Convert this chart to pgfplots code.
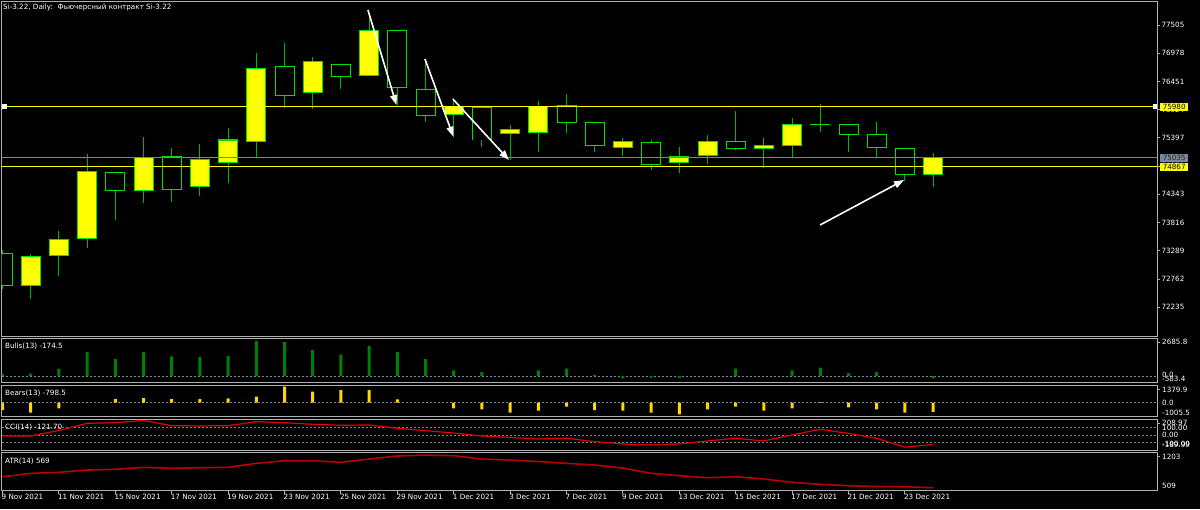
\documentclass[border=0pt]{standalone}
\usepackage{pgfplots}
\pgfplotsset{compat=1.18}
\usepackage{pgfplotstable}
\usepackage{fontspec}
\setmainfont{DejaVu Sans}
\usetikzlibrary{arrows.meta}

\definecolor{frame}{RGB}{176,176,176}
\definecolor{candleline}{RGB}{0,225,0}
\definecolor{wick}{RGB}{0,180,0}
\definecolor{bullbar}{RGB}{0,128,0}
\definecolor{bearbar}{RGB}{255,215,0}
\definecolor{dashc}{RGB}{119,136,153}
\definecolor{ccired}{RGB}{225,0,0}
\definecolor{atrred}{RGB}{185,0,0}
\definecolor{bidgray}{RGB}{130,130,130}
\definecolor{bidbox}{RGB}{119,136,153}
\definecolor{lvl}{RGB}{255,255,0}

% candles: index, open, high, low, close
\pgfplotstableread{
i o h l c
1 72635 73225 72398 73180
2 73194 73660 72827 73505
3 73524 75092 73337 74767
5 74407 75414 74177 75035
7 74487 75278 74319 74985
8 74935 75583 74550 75358
9 75327 76977 75046 76697
11 76242 76902 75932 76828
13 76566 77711 76560 77394
16 75826 76118 75421 75980
18 75484 75639 74985 75546
19 75503 76092 75140 75980
22 75222 75390 75059 75327
24 74942 75234 74748 75046
25 75065 75451 74910 75334
27 75196 75390 74830 75252
28 75247 75775 75017 75639
33 74723 75110 74476 75035
}\bullcandles
\pgfplotstableread{
i o h l c
0 73245 73300 72580 72640
4 74756 74765 73865 74407
6 75059 75209 74207 74438
10 76727 77175 75951 76186
12 76772 76780 76311 76547
14 77394 77400 76013 76335
15 76305 76865 75690 75807
17 75962 75968 75234 75358
20 75999 76212 75495 75690
21 75690 75698 75129 75252
23 75315 75358 74799 74905
26 75334 75900 75172 75196
29 75649 76031 75503 75639
30 75652 75657 75140 75464
31 75464 75690 75017 75215
32 75204 75211 74598 74705
}\bearcandles
\pgfplotstableread{
i v
0 150
1 190
2 550
3 1846
4 1312
5 1846
6 1518
7 1480
8 1541
9 2685.8
10 2609
11 2000
12 1640
13 2304
14 1846
15 1312
16 450
17 320
18 30
19 450
20 572
21 92
22 -160
23 -115
24 -137
25 10
26 572
27 15
28 450
29 649
30 244
31 320
32 -40
33 -174.5
}\bullsdata
\pgfplotstableread{
i v
0 -630
1 -862
2 -483
3 -20
4 319
5 405
6 319
7 319
8 380
9 517
10 1379.9
11 948
12 1095
13 1095
14 293
15 10
16 -483
17 -569
18 -862
19 -690
20 -345
21 -629
22 -690
23 -862
24 -1005.5
25 -569
26 -345
27 -690
28 -483
29 60
30 -397
31 -569
32 -862
33 -798.5
}\bearsdata
\pgfplotstableread{
i v
0 -9
1 -9
2 63
3 158
4 166
5 195
6 127
7 123
8 127
9 180
10 166
11 145
12 132
13 136
14 92
15 61
16 30
17 -9
18 -29
19 -49
20 -40
21 -84
22 -115
23 -128
24 -115
25 -75
26 -40
27 -75
28 4
29 79
30 26
31 -40
32 -158
33 -121.70
}\ccidata
\pgfplotstableread{
i v
0 782
1 848
2 868
3 912
4 926
5 965
6 945
7 957
8 965
9 1042
10 1093
11 1093
12 1062
13 1126
14 1184
15 1203
16 1190
17 1126
18 1106
19 1077
20 1042
21 1009
22 951
23 848
24 802
25 763
26 782
27 738
28 674
29 635
30 608
31 592
32 588
33 569
}\atrdata

\newcommand\lbl{\fontsize{7.2}{8.6}\selectfont}

\pgfplotsset{
  panel/.style={
    scale only axis, width=1155.6pt,
    xmin=-0.02837, xmax=40.9504,
    axis line style={draw=frame, line width=1pt},
    xtick=\empty, ytick=\empty,
    anchor=north west,
  },
  vbar/.style 2 args={draw=none, mark=none,
    error bars/.cd, y dir=plus, y explicit, error mark=none,
    error bar style={draw=#1, line width=#2, line cap=butt}},
  zeroline/.style={dashc, dash pattern=on 2pt off 2pt, line width=0.8pt},
}

\begin{document}
\begin{tikzpicture}
\useasboundingbox (0,0) rectangle (1200pt,-509pt);
\fill[black] (0,0) rectangle (1200pt,-509pt);

% ---------------- main price panel
\begin{axis}[panel, at={(1.7pt,-1.7pt)}, height=334.6pt,
  ymin=71693, ymax=77940,
  ytick={72235,72762,73289,73816,74343,74870,75397,75924,76451,76978,77505},
  yticklabels={72235,72762,73289,73816,74343,74870,75397,75924,76451,76978,77505},
  ytick pos=right, yticklabel pos=right, scaled y ticks=false,
  tick align=outside, major tick length=3pt,
  tick style={draw=frame, line width=1pt},
  yticklabel style={text=white, font=\lbl, anchor=west, inner sep=0pt, xshift=1pt},
]
% wicks
\addplot[vbar={wick}{1pt}] table[x=i, y=l, y error plus expr=\thisrow{h}-\thisrow{l}] \bullcandles;
\addplot[vbar={wick}{1pt}] table[x=i, y=l, y error plus expr=\thisrow{h}-\thisrow{l}] \bearcandles;
% bull bodies
\addplot[vbar={candleline}{20pt}] table[x=i, y expr=\thisrow{o}-9.3, y error plus expr=\thisrow{c}-\thisrow{o}+18.7] \bullcandles;
\addplot[vbar={lvl}{18pt}] table[x=i, y expr=\thisrow{o}+9.3, y error plus expr={max(\thisrow{c}-\thisrow{o}-18.7,0)}] \bullcandles;
% bear bodies
\addplot[vbar={candleline}{20pt}] table[x=i, y expr=\thisrow{c}-9.3, y error plus expr=\thisrow{o}-\thisrow{c}+18.7] \bearcandles;
\addplot[vbar={black}{18pt}] table[x=i, y expr=\thisrow{c}+9.3, y error plus expr={max(\thisrow{o}-\thisrow{c}-18.7,0)}] \bearcandles;
% horizontal levels
\addplot[lvl, line width=1.5pt] coordinates {(-1,75980) (42,75980)};
\addplot[lvl, line width=1.5pt] coordinates {(-1,74867) (42,74867)};
\addplot[bidgray, line width=1.2pt] coordinates {(-1,75035) (42,75035)};
% arrows
\draw[white, line width=1.6pt, -{Triangle[length=10pt, width=7pt]}] (axis cs:12.96,77785) -- (axis cs:13.97,76012);
\draw[white, line width=1.6pt, -{Triangle[length=10pt, width=7pt]}] (axis cs:14.98,76871) -- (axis cs:15.99,75420);
\draw[white, line width=1.6pt, -{Triangle[length=10pt, width=7pt]}] (axis cs:15.97,76124) -- (axis cs:17.96,74985);
\draw[white, line width=1.6pt, -{Triangle[length=10pt, width=7pt]}] (axis cs:28.99,73771) -- (axis cs:31.97,74611);
\end{axis}

% ---------------- Bulls
\begin{axis}[panel, at={(1.7pt,-338.5pt)}, height=44.2pt, ymin=-496, ymax=2876.5]
\addplot[zeroline] coordinates {(-1,0) (42,0)};
\addplot[ybar, bar width=3pt, fill=bullbar, draw=none] table[x=i, y=v] \bullsdata;
\end{axis}

% ---------------- Bears
\begin{axis}[panel, at={(1.7pt,-385pt)}, height=31.7pt, ymin=-1206.8, ymax=1525.7]
\addplot[zeroline] coordinates {(-1,0) (42,0)};
\addplot[ybar, bar width=3pt, fill=bearbar, draw=none] table[x=i, y=v] \bearsdata;
\end{axis}

% ---------------- CCI
\begin{axis}[panel, at={(1.7pt,-419pt)}, height=31pt, ymin=-195, ymax=215]
\addplot[zeroline] coordinates {(-1,100) (42,100)};
\addplot[zeroline] coordinates {(-1,0) (42,0)};
\addplot[zeroline] coordinates {(-1,-100) (42,-100)};
\addplot[ccired, line width=1.2pt] table[x=i, y=v] \ccidata;
\end{axis}

% ---------------- ATR
\begin{axis}[panel, at={(1.7pt,-452pt)}, height=38.5pt, ymin=515, ymax=1262,
  xtick={0,2,...,32},
  xticklabels={9 Nov 2021, 11 Nov 2021, 15 Nov 2021, 17 Nov 2021, 19 Nov 2021, 23 Nov 2021, 25 Nov 2021, 29 Nov 2021, 1 Dec 2021, 3 Dec 2021, 7 Dec 2021, 9 Dec 2021, 13 Dec 2021, 15 Dec 2021, 17 Dec 2021, 21 Dec 2021, 23 Dec 2021},
  xtick pos=left, xticklabel pos=left,
  tick align=outside, major tick length=3pt,
  tick style={draw=frame, line width=1pt},
  xticklabel style={text=white, font=\lbl, anchor=north west, inner sep=0pt, xshift=-1pt},
]
\addplot[atrred, line width=1.6pt] table[x=i, y=v] \atrdata;
\end{axis}

% ---------------- texts and price tags
\node[anchor=west, text=white, inner sep=0pt, font=\lbl] at (3pt,-7.5pt) {Si-3.22, Daily:\ \ Фьючерсный контракт Si-3.22};
\node[anchor=west, text=white, inner sep=0pt, font=\lbl] at (5pt,-346pt) {Bulls(13) -174.5};
\node[anchor=west, text=white, inner sep=0pt, font=\lbl] at (5pt,-393pt) {Bears(13) -798.5};
\node[anchor=west, text=white, inner sep=0pt, font=\lbl] at (5pt,-427.7pt) {CCI(14) -121.70};
\node[anchor=west, text=white, inner sep=0pt, font=\lbl] at (5pt,-461pt) {ATR(14) 569};

\fill[white] (1.5pt,-104.2pt) rectangle (6.5pt,-109.2pt);
\fill[white] (1152.5pt,-104.2pt) rectangle (1157.3pt,-109.2pt);

\node[anchor=west, fill=lvl, text=black, inner sep=0pt, minimum width=28pt, minimum height=8.4pt, font=\lbl] at (1160pt,-107.2pt) {75980};
\node[anchor=west, fill=bidbox, text=black!85, inner sep=0pt, minimum width=28pt, minimum height=8.6pt, font=\lbl] at (1160pt,-157.8pt) {75035};
\node[anchor=west, fill=lvl, text=black, inner sep=0pt, minimum width=28pt, minimum height=8.4pt, font=\lbl] at (1160pt,-166.9pt) {74867};

\foreach \yy/\tt in {342/2685.8, 375/0.0, 378.5/-583.4, 389.5/1379.9, 403.2/0.0, 413/-1005.5, 423.3/208.97, 428/100.00, 435.2/0.00, 443.5/-100.00, 444.8/-189.99, 456.5/1203, 485.8/509}
  \node[anchor=west, text=white, inner sep=0pt, font=\lbl] at (1162pt,-\yy pt) {\tt};
\foreach \yy in {342, 389.5, 423.3, 456.5}
  \draw[frame, line width=1pt] (1157.3pt,-\yy pt) -- (1160.3pt,-\yy pt);
\end{tikzpicture}
\end{document}
